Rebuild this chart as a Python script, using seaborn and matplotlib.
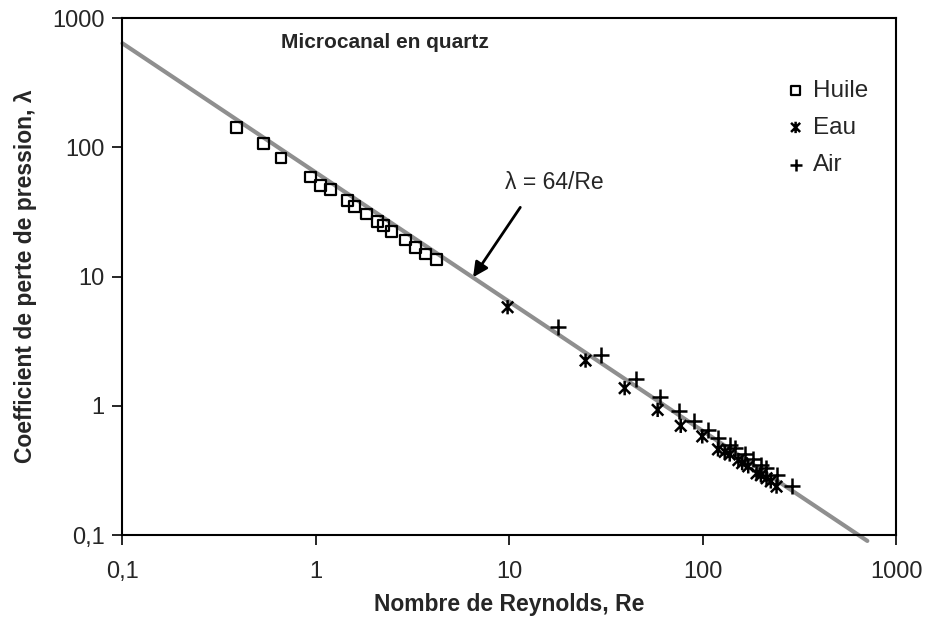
import matplotlib

matplotlib.use("Agg")
import matplotlib.pyplot as plt
import pandas as pd
import seaborn as sns
from matplotlib.path import Path
from matplotlib.ticker import FixedLocator, FuncFormatter, NullLocator

# Data
huile_re = [0.39, 0.535, 0.66, 0.94, 1.06, 1.19, 1.46, 1.58, 1.82, 2.09, 2.23, 2.47, 2.91, 3.27, 3.70, 4.21]
huile_lambda = [142, 108, 83, 59, 51, 47.5, 38.7, 34.8, 30.6, 26.6, 25.0, 22.3, 19.2, 16.8, 15.0, 13.5]

eau_re = [9.8, 24.8, 39.5, 58.5, 77, 99.5, 120, 130, 138, 153, 160, 172, 190, 200, 214, 225, 241]
eau_lambda = [5.8, 2.24, 1.37, 0.93, 0.70, 0.58, 0.46, 0.44, 0.42, 0.38, 0.36, 0.34, 0.30, 0.29, 0.275, 0.26, 0.237]

air_re = [17.8, 29.8, 45.4, 60, 75, 90, 106, 120, 138, 147, 165, 183, 200, 212, 241, 288]
air_lambda = [4.1, 2.48, 1.62, 1.18, 0.91, 0.76, 0.65, 0.56, 0.50, 0.47, 0.42, 0.39, 0.35, 0.33, 0.29, 0.24]

# theoretical law lambda = 64/Re, end points of the drawn line
theory_re = [0.1, 710]
theory_lambda = [640, 0.09]

tick_values = [0.1, 1, 10, 100, 1000]
tick_labels = ["0,1", "1", "10", "100", "1000"]

sns.set_style("ticks")
plt.rcParams["font.family"] = ["Liberation Sans", "DejaVu Sans"]

# Excel-like star marker: an x with a vertical bar
star = Path(
    [(-1, -1), (1, 1), (-1, 1), (1, -1), (0, -1.25), (0, 1.25)],
    [Path.MOVETO, Path.LINETO, Path.MOVETO, Path.LINETO, Path.MOVETO, Path.LINETO],
)

fig = plt.figure(figsize=(9.28, 6.36), dpi=100)
ax = fig.add_axes([0.132, 0.1588, 0.8336, 0.8124])

theory = pd.DataFrame({"Re": theory_re, "lam": theory_lambda})
sns.lineplot(data=theory, x="Re", y="lam", ax=ax, color="#8f8f8f", lw=3, clip_on=False, zorder=2)

sns.scatterplot(x=huile_re, y=huile_lambda, ax=ax, marker="s", s=60, color="black",
                facecolor="none", edgecolor="black", linewidth=1.6, label="Huile", zorder=3)
sns.scatterplot(x=eau_re, y=eau_lambda, ax=ax, marker=star, s=105, color="black",
                facecolor="none", edgecolor="black", linewidth=1.8, label="Eau", zorder=3)
sns.scatterplot(x=air_re, y=air_lambda, ax=ax, marker="+", s=130, color="black",
                linewidth=1.8, label="Air", zorder=3)

ax.set_xscale("log")
ax.set_yscale("log")
ax.set_xlim(0.1, 1000)
ax.set_ylim(0.1, 1000)

fmt = FuncFormatter(lambda v, pos: tick_labels[tick_values.index(v)] if v in tick_values else "")
for axis in (ax.xaxis, ax.yaxis):
    axis.set_major_locator(FixedLocator(tick_values))
    axis.set_major_formatter(fmt)
    axis.set_minor_locator(NullLocator())
ax.tick_params(direction="out", length=7, width=1.4, labelsize=17)
ax.tick_params(axis="x", pad=12)
ax.tick_params(axis="y", pad=6)

for side in ["top", "right", "bottom", "left"]:
    ax.spines[side].set_visible(True)
    ax.spines[side].set_linewidth(1.5)
    ax.spines[side].set_color("black")

ax.set_xlabel("Nombre de Reynolds, Re", fontsize=16.5, fontweight="bold", labelpad=7)
ax.set_ylabel("Coefficient de perte de pression, λ", fontsize=16.5, fontweight="bold", labelpad=11)

ax.text(0.205, 0.954, "Microcanal en quartz", transform=ax.transAxes, fontsize=15,
        fontweight="bold", ha="left", va="center")

ax.annotate("", xy=(6.5, 9.9), xytext=(11.4, 34.4),
            arrowprops=dict(arrowstyle="-|>", color="black", lw=2, mutation_scale=22,
                            shrinkA=0, shrinkB=0, facecolor="#555555"))
ax.text(17.0, 53.1, "λ = 64/Re", fontsize=16.5, ha="center", va="center")

ax.legend(loc="upper left", bbox_to_anchor=(0.845, 0.9), frameon=False, fontsize=17.5,
          handlelength=0.8, handletextpad=0.3, labelspacing=0.62, borderaxespad=0,
          markerscale=0.8)

plt.savefig("out.png", dpi=100)
plt.close()
